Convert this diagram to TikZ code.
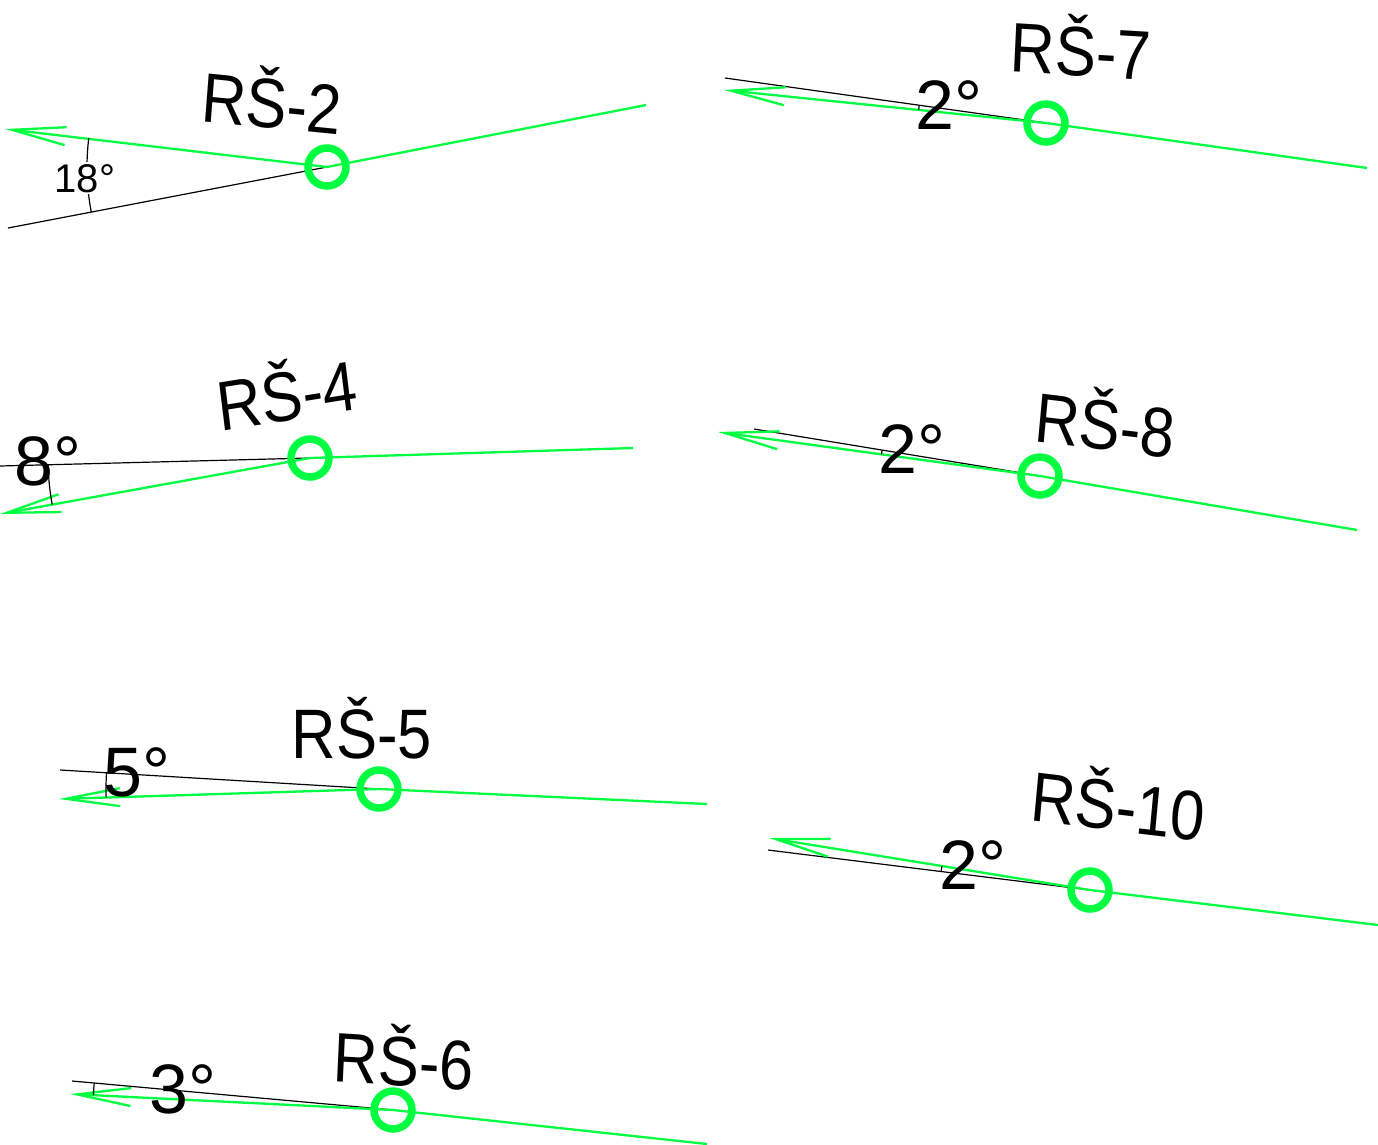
\documentclass[tikz,border=0pt]{standalone}
\usepackage{fontspec}
\setmainfont{Liberation Sans}
\usetikzlibrary{arrows.meta}
\definecolor{grn}{RGB}{0,255,64}
\begin{document}
\begin{tikzpicture}[x=1pt,y=-1pt,
  gline/.style={draw=grn, line width=2.3pt},
  bline/.style={draw=black, line width=1.2pt},
  garrow/.style={gline, -{Straight Barb[length=54pt,width=18pt]}},
  well/.style={circle, draw=grn, line width=7.5pt, minimum size=38pt, inner sep=0pt},
  lbl/.style={font=\fontsize{70}{70}\selectfont, anchor=base, inner sep=0pt, xscale=0.88},
  dlbl/.style={font=\fontsize{70}{70}\selectfont, anchor=base, inner sep=0pt},
  slbl/.style={font=\fontsize{40}{40}\selectfont, anchor=base, inner sep=2pt, fill=white}]
\useasboundingbox (0,0) rectangle (1378,1144);
% ---------- RS-2
\coordinate (c2) at (327,167);
\coordinate (t2) at (5,129);
\coordinate (e2) at (646,105);
\coordinate (b2) at (8,228);
\draw[bline] (b2) -- (c2);
\draw[gline] (c2) -- (e2);
\draw[garrow] (c2) -- (t2);
\draw[bline] (c2) ++(169.2:240) arc[start angle=169.2,end angle=186.9,radius=240];
\node[slbl] (a2) at (85,192) {18°};
\node[well] (w2) at (c2) {};
\node[lbl, rotate=-5] (n2) at (270,128) {RŠ-2};
% ---------- RS-7
\coordinate (c7) at (1046,123);
\coordinate (t7) at (724,90);
\coordinate (e7) at (1367,168);
\coordinate (b7) at (725,78);
\draw[bline] (b7) -- (c7);
\draw[gline] (c7) -- (e7);
\draw[garrow] (c7) -- (t7);
\draw[bline] (c7) ++(185.85:128) arc[start angle=185.85,end angle=188.0,radius=128];
\node[dlbl] (a7) at (949,129) {2°};
\node[well] (w7) at (c7) {};
\node[lbl, rotate=-3] (n7) at (1080,76) {RŠ-7};
% ---------- RS-4
\coordinate (c4) at (310,458);
\coordinate (t4) at (0,514);
\coordinate (e4) at (633,448);
\coordinate (b4) at (0,466);
\draw[bline] (b4) -- (c4);
\draw[gline] (c4) -- (e4);
\draw[garrow] (c4) -- (t4);
\draw[bline] (c4) ++(169.76:262) arc[start angle=169.76,end angle=178.5,radius=262];
\node[dlbl] (a4) at (48,485) {8°};
\node[well] (w4) at (c4) {};
\node[lbl, rotate=8] (n4) at (290,420) {RŠ-4};
% ---------- RS-8
\coordinate (c8) at (1040,476);
\coordinate (t8) at (718,432);
\coordinate (e8) at (1357,530);
\coordinate (b8) at (754,429);
\draw[bline] (b8) -- (c8);
\draw[gline] (c8) -- (e8);
\draw[garrow] (c8) -- (t8);
\draw[bline] (c8) ++(187.8:160) arc[start angle=187.8,end angle=189.3,radius=160];
\node[dlbl] (a8) at (912,473) {2°};
\node[well] (w8) at (c8) {};
\node[lbl, rotate=-6] (n8) at (1103,450) {RŠ-8};
% ---------- RS-5
\coordinate (c5) at (379,789);
\coordinate (t5) at (59,799);
\coordinate (e5) at (707,804);
\coordinate (b5) at (60,770);
\draw[bline] (b5) -- (c5);
\draw[gline] (c5) -- (e5);
\draw[garrow] (c5) -- (t5);
\draw[bline] (c5) ++(178.2:273) arc[start angle=178.2,end angle=183.4,radius=273];
\node[dlbl] (a5) at (137,796) {5°};
\node[well] (w5) at (c5) {};
\node[lbl] (n5) at (362,758) {RŠ-5};
% ---------- RS-10
\coordinate (c10) at (1090,890);
\coordinate (t10) at (769,838);
\coordinate (e10) at (1378,925);
\coordinate (b10) at (768,850);
\draw[bline] (b10) -- (c10);
\draw[gline] (c10) -- (e10);
\draw[garrow] (c10) -- (t10);
\draw[bline] (c10) ++(187.08:150) arc[start angle=187.08,end angle=189.2,radius=150];
\node[dlbl] (a10) at (973,889) {2°};
\node[well] (w10) at (c10) {};
\node[lbl, rotate=-6] (n10) at (1116,831) {RŠ-10};
% ---------- RS-6
\coordinate (c6) at (393,1110);
\coordinate (t6) at (70,1094);
\coordinate (e6) at (707,1144);
\coordinate (b6) at (72,1081);
\draw[bline] (b6) -- (c6);
\draw[gline] (c6) -- (e6);
\draw[garrow] (c6) -- (t6);
\draw[bline] (c6) ++(182.84:300) arc[start angle=182.84,end angle=185.16,radius=300];
\node[dlbl] (a6) at (183,1113) {3°};
\node[well] (w6) at (c6) {};
\node[lbl, rotate=-3] (n6) at (403,1086) {RŠ-6};
\end{tikzpicture}
\end{document}
